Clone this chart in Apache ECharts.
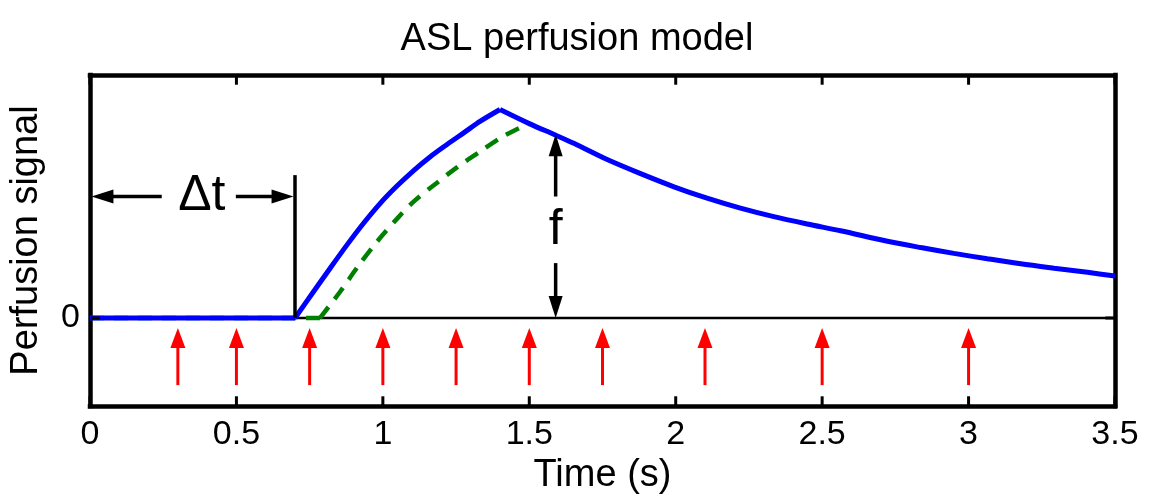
<!DOCTYPE html>
<html>
<head>
<meta charset="utf-8">
<script src="https://cdn.jsdelivr.net/npm/echarts@6/dist/echarts.min.js"></script>
<style>
html,body{margin:0;padding:0;background:#fff;}
#chart{width:1154px;height:500px;}
</style>
</head>
<body>
<div id="chart"></div>
<script>
// ---- data ----
const titleText = 'ASL perfusion model';
const xName = 'Time (s)';
const yName = 'Perfusion signal';
const xTicks = [0, 0.5, 1, 1.5, 2, 2.5, 3, 3.5];
const yTickValues = [0];

// blue model curve (three pieces: flat, inflow, decay)
const blueFlatTime = [0, 0.70];
const blueFlatSignal = [0, 0];
const blueRiseTime = [0.70, 0.763, 0.82, 0.877, 0.934, 0.991, 1.048, 1.105, 1.162, 1.219, 1.276, 1.333, 1.40];
const blueRiseSignal = [0, 0.108, 0.205, 0.300, 0.390, 0.472, 0.543, 0.607, 0.664, 0.714, 0.762, 0.810, 0.858];
const blueDecayTime = [1.40, 1.50, 1.589, 1.652, 1.766, 1.88, 1.994, 2.107, 2.221, 2.335, 2.449, 2.563, 2.723, 2.837, 2.95, 3.064, 3.178, 3.292, 3.406, 3.5];
const blueDecaySignal = [0.858, 0.800, 0.753, 0.719, 0.652, 0.594, 0.540, 0.493, 0.452, 0.417, 0.387, 0.359, 0.316, 0.290, 0.266, 0.244, 0.223, 0.205, 0.188, 0.173];

// green dashed curve
const greenFlatTime = [0, 0.785];
const greenFlatSignal = [0, 0];
const greenRiseTime = [0.785, 0.854, 0.917, 0.98, 1.048, 1.105, 1.184, 1.253, 1.333, 1.407, 1.487, 1.50];
const greenRiseSignal = [0, 0.108, 0.216, 0.314, 0.408, 0.479, 0.556, 0.620, 0.686, 0.745, 0.794, 0.800];

const baselineTime = [0, 3.5];
const baselineSignal = [0, 0];

const delayTime = 0.7;          // Δt marker
const delayMarkerTop = 0.588;

const pulseTimes = [0.3, 0.5, 0.75, 1.0, 1.25, 1.5, 1.75, 2.1, 2.5, 3.0];
const pulseTail = -0.276;
const pulseTip = -0.041;

// annotation arrows: [x1, y1, x2, y2] (tail -> tip)
const annotationArrows = [
  [0.245, 0.5, 0.005, 0.5],
  [0.498, 0.5, 0.695, 0.5],
  [1.59, 0.5, 1.59, 0.756],
  [1.59, 0.226, 1.59, 0.0]
];
const annotationLabels = ['Δt', 'f'];
const annotationLabelPos = [[0.382, 0.5], [1.59, 0.362]];

// ---- build ----
const FONT = "'Liberation Sans', Arial, Helvetica, sans-serif";
const X_MIN = 0, X_MAX = 3.5, Y_MIN = -0.362, Y_MAX = 1;
const zip = (a, b) => a.map((v, i) => [v, b[i]]);

function arrowRenderer(shaftWidth, headLen, headWidth, color) {
  return function (params, api) {
    const p1 = api.coord([api.value(0), api.value(1)]);
    const p2 = api.coord([api.value(2), api.value(3)]);
    const dx = p2[0] - p1[0], dy = p2[1] - p1[1];
    const L = Math.sqrt(dx * dx + dy * dy) || 1;
    const ux = dx / L, uy = dy / L;
    const nx = -uy, ny = ux;
    const bx = p2[0] - ux * headLen, by = p2[1] - uy * headLen;
    return {
      type: 'group',
      children: [
        { type: 'line', shape: { x1: p1[0], y1: p1[1], x2: bx + ux * 2, y2: by + uy * 2 },
          style: { stroke: color, lineWidth: shaftWidth } },
        { type: 'polygon', shape: { points: [[p2[0], p2[1]], [bx + nx * headWidth / 2, by + ny * headWidth / 2], [bx - nx * headWidth / 2, by - ny * headWidth / 2]] },
          style: { fill: color } }
      ]
    };
  };
}

const pulseData = pulseTimes.map(t => [t, pulseTail, t, pulseTip]);

const blueStyle = { color: '#0000ff', width: 5 };
const greenStyle = { color: '#008000', width: 4.5, type: [14, 10], cap: 'butt' };
function curve(name, time, sig, style, z, smooth) {
  return { type: 'line', name, data: zip(time, sig), symbol: 'none', z, smooth: smooth || false,
    lineStyle: style, itemStyle: { color: style.color }, silent: true, clip: false };
}

// inward tick marks on the frame, each drawn as a tiny line series
const TICK_DY = 0.04, TICK_DX = 0.033, TICK_IN = 0.004;
const tickStyle = { color: '#000', width: 3 };
const tickSeries = []
  .concat(xTicks.map(v => curve('tb' + v, [v, v], [Y_MIN + TICK_IN, Y_MIN + TICK_DY], tickStyle, 8)))
  .concat(xTicks.map(v => curve('tt' + v, [v, v], [Y_MAX - TICK_IN, Y_MAX - TICK_DY], tickStyle, 8)))
  .concat(yTickValues.map(v => curve('tl' + v, [X_MIN + TICK_IN, X_MIN + TICK_DX], [v, v], tickStyle, 8)))
  .concat(yTickValues.map(v => curve('tr' + v, [X_MAX - TICK_IN, X_MAX - TICK_DX], [v, v], tickStyle, 8)));

const frameLine = { show: true, onZero: false, lineStyle: { color: '#000', width: 4.5, cap: 'square' } };

const chart = echarts.init(document.getElementById('chart'), null, { renderer: 'canvas' });
chart.setOption({
  backgroundColor: '#fff',
  animation: false,
  textStyle: { fontFamily: FONT },
  title: {
    text: titleText, left: 'center', top: 16,
    textStyle: { fontFamily: FONT, fontSize: 38, fontWeight: 'normal', color: '#000' }
  },
  grid: { left: 90, right: 39, top: 75, bottom: 94, show: false },
  xAxis: [{
    type: 'value', position: 'bottom', min: X_MIN, max: X_MAX, interval: 0.5,
    name: xName, nameLocation: 'middle', nameGap: 50,
    nameTextStyle: { fontFamily: FONT, fontSize: 38, color: '#000' },
    axisLine: frameLine,
    axisTick: { show: false },
    axisLabel: { color: '#000', fontSize: 34, fontFamily: FONT, margin: 12,
      formatter: v => (xTicks.indexOf(v) >= 0 ? String(v) : '') },
    splitLine: { show: false }
  }, {
    type: 'value', position: 'top', min: X_MIN, max: X_MAX, interval: 0.5,
    axisLine: frameLine,
    axisTick: { show: false },
    axisLabel: { show: false },
    splitLine: { show: false }
  }],
  yAxis: [{
    type: 'value', position: 'left', min: Y_MIN, max: Y_MAX,
    name: yName, nameLocation: 'middle', nameGap: 44, nameRotate: 90,
    nameTextStyle: { fontFamily: FONT, fontSize: 38, color: '#000' },
    axisLine: frameLine,
    axisTick: { show: false },
    axisLabel: { color: '#000', fontSize: 34, fontFamily: FONT, margin: 10, customValues: yTickValues,
      formatter: v => (Math.abs(v) < 1e-9 ? '0' : '') },
    splitLine: { show: false }
  }, {
    type: 'value', position: 'right', min: Y_MIN, max: Y_MAX,
    axisLine: frameLine,
    axisTick: { show: false },
    axisLabel: { show: false },
    splitLine: { show: false }
  }],
  series: [
    curve('baseline', baselineTime, baselineSignal, { color: '#000', width: 2.5 }, 1),
    curve('greenFlat', greenFlatTime, greenFlatSignal, greenStyle, 2),
    curve('greenRise', greenRiseTime, greenRiseSignal, greenStyle, 2, 0.3),
    curve('blueFlat', blueFlatTime, blueFlatSignal, blueStyle, 3),
    curve('blueRise', blueRiseTime, blueRiseSignal, blueStyle, 3, 0.3),
    curve('blueDecay', blueDecayTime, blueDecaySignal, blueStyle, 3, 0.3),
    curve('delay', [delayTime, delayTime], [0, delayMarkerTop], { color: '#000', width: 3.5 }, 4),
    { type: 'custom', name: 'pulses', data: pulseData, z: 5,
      encode: { x: [0, 2], y: [1, 3] },
      renderItem: arrowRenderer(3, 20, 15, '#ff0000') },
    { type: 'custom', name: 'annot', data: annotationArrows, z: 5,
      encode: { x: [0, 2], y: [1, 3] },
      renderItem: arrowRenderer(3.5, 22, 14, '#000') },
    { type: 'custom', name: 'labels', data: annotationLabelPos, z: 6,
      encode: { x: 0, y: 1 },
      renderItem: function (params, api) {
        const p = api.coord([api.value(0), api.value(1)]);
        return { type: 'text', x: p[0], y: p[1],
          style: { text: annotationLabels[params.dataIndex], fill: '#000', fontSize: 50, fontFamily: FONT,
            align: 'center', verticalAlign: 'middle' } };
      } }
  ].concat(tickSeries)
});
</script>
</body>
</html>
